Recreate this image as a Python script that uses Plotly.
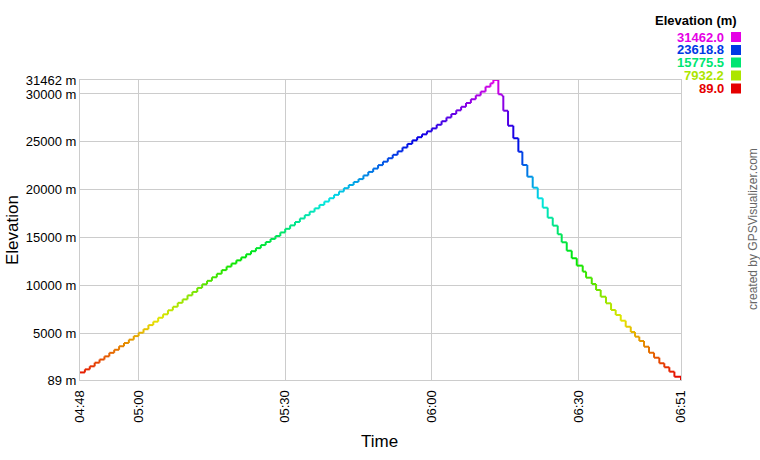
import colorsys
import plotly.graph_objects as go

DAY = "2000-01-01 "

# ---- data ----
ascent_times = [
    "04:48:00", "04:49:00", "04:50:00", "04:51:00", "04:52:00", "04:53:00", "04:54:00", "04:55:00",
    "04:56:00", "04:57:00", "04:58:00", "04:59:00", "05:00:00", "05:01:00", "05:02:00", "05:03:00",
    "05:04:00", "05:05:00", "05:06:00", "05:07:00", "05:08:00", "05:09:00", "05:10:00", "05:11:00",
    "05:12:00", "05:13:00", "05:14:00", "05:15:00", "05:16:00", "05:17:00", "05:18:00", "05:19:00",
    "05:20:00", "05:21:00", "05:22:00", "05:23:00", "05:24:00", "05:25:00", "05:26:00", "05:27:00",
    "05:28:00", "05:29:00", "05:30:00", "05:31:00", "05:32:00", "05:33:00", "05:34:00", "05:35:00",
    "05:36:00", "05:37:00", "05:38:00", "05:39:00", "05:40:00", "05:41:00", "05:42:00", "05:43:00",
    "05:44:00", "05:45:00", "05:46:00", "05:47:00", "05:48:00", "05:49:00", "05:50:00", "05:51:00",
    "05:52:00", "05:53:00", "05:54:00", "05:55:00", "05:56:00", "05:57:00", "05:58:00", "05:59:00",
    "06:00:00", "06:01:00", "06:02:00", "06:03:00", "06:04:00", "06:05:00", "06:06:00", "06:07:00",
    "06:08:00", "06:09:00", "06:10:00", "06:11:00", "06:12:00",
]
ascent_elev = [
    880, 1200, 1520, 1900, 2230, 2560, 2930, 3250, 3620, 3960, 4310, 4680, 5030,
    5400, 5830, 6190, 6600, 6960, 7380, 7750, 8160, 8520, 8940, 9300, 9720, 10100,
    10460, 10830, 11200, 11580, 11950,
    12270, 12600, 12910, 13240, 13560, 13880, 14200, 14520, 14840, 15150,
    15520, 15900, 16260, 16610, 16980, 17330, 17690, 18040, 18400, 18750, 19100, 19450, 19800, 20150,
    20480, 20800, 21100, 21480, 21850, 22200, 22560, 22920, 23280, 23640, 24000, 24400, 24780, 25150,
    25480, 25780, 26090, 26400, 26780, 27150, 27540, 27910, 28290, 28660, 29060, 29450, 29850, 30250,
    30762, 31117,
]
peak_time = ["06:12:36"]
peak_elev = [31462]
descent_times = [
    "06:13:37", "06:14:19", "06:14:38", "06:15:36", "06:16:41", "06:17:43", "06:18:32", "06:19:33",
    "06:20:39", "06:21:41", "06:22:42", "06:23:43", "06:24:45", "06:25:46", "06:26:35", "06:27:37",
    "06:28:38", "06:29:40", "06:30:53", "06:31:34", "06:32:44", "06:33:37", "06:34:34", "06:35:39",
    "06:36:41", "06:37:38", "06:38:40", "06:39:41", "06:40:43", "06:41:35", "06:42:28", "06:43:26",
    "06:44:27", "06:45:29", "06:46:34", "06:47:35", "06:48:37", "06:49:39", "06:51:00",
]
descent_elev = [
    29970, 29820, 28250, 26680, 25370, 23960, 22570, 21350, 20200, 19090, 18110, 17060, 16230,
    15330, 14490, 13610, 12820, 12050, 11420, 10790, 10130, 9500, 8800, 8110, 7410, 6890, 6290,
    5660, 5110, 4620, 4170, 3570, 2940, 2420, 1840, 1420, 960, 430, 89,
]

y_ticks = [89, 5000, 10000, 15000, 20000, 25000, 30000, 31462]
x_tick_labels = ["04:48", "05:00", "05:30", "06:00", "06:30", "06:51"]
legend_values = ["31462.0", "23618.8", "15775.5", "7932.2", "89.0"]

ELEV_MIN, ELEV_MAX = 89, 31462

times = [DAY + t for t in ascent_times + peak_time + descent_times]
elev = ascent_elev + peak_elev + descent_elev


def color_for(v):
    f = (v - ELEV_MIN) / (ELEV_MAX - ELEV_MIN)
    f = max(0.0, min(1.0, f))
    r, g, b = colorsys.hsv_to_rgb(f * 300 / 360, 1.0, 0.9)
    return "rgb({},{},{})".format(int(r * 255), int(g * 255), int(b * 255))


fig = go.Figure()
for i in range(len(times) - 1):
    # horizontal part
    fig.add_trace(go.Scatter(
        x=[times[i], times[i + 1]], y=[elev[i], elev[i]], mode="lines",
        line=dict(color=color_for(elev[i]), width=2),
        hoverinfo="skip", showlegend=False))
    # vertical part
    fig.add_trace(go.Scatter(
        x=[times[i + 1], times[i + 1]], y=[elev[i], elev[i + 1]], mode="lines",
        line=dict(color=color_for((elev[i] + elev[i + 1]) / 2), width=2),
        hoverinfo="skip", showlegend=False))

FONT = "Arial, Liberation Sans, sans-serif"
W, H = 760, 460
L, R, T, B = 80, 681, 80, 380   # plot area in page pixels


def px(x):
    return (x - L) / (R - L)


def py(y):
    return (B - y) / (B - T)


annotations = [
    dict(text="Elevation", x=px(12), y=py(230), xref="paper", yref="paper", showarrow=False,
         xanchor="center", yanchor="middle",
         textangle=-90, font=dict(family=FONT, size=17, color="#000")),
    dict(text="Time", x=px(379), y=py(441), xref="paper", yref="paper", showarrow=False,
         xanchor="center", yanchor="middle",
         font=dict(family=FONT, size=17, color="#000")),
    dict(text="<b>Elevation (m)</b>", x=px(739), y=py(21), xref="paper", yref="paper",
         showarrow=False, xanchor="right", yanchor="middle",
         font=dict(family=FONT, size=13, color="#000")),
    dict(text="created by GPSVisualizer.com", x=px(753), y=py(229), xref="paper", yref="paper",
         showarrow=False, xanchor="center", yanchor="middle",
         textangle=-90, font=dict(family=FONT, size=12, color="#666")),
]
shapes = []
leg_y = [37, 50, 62.5, 75.5, 88.5]
for val, yc in zip(legend_values, leg_y):
    c = color_for(float(val))
    annotations.append(dict(text="<b>" + val + "</b>", x=px(726), y=py(yc), xref="paper", yref="paper",
                            showarrow=False, xanchor="right", yanchor="middle",
                            font=dict(family=FONT, size=13, color=c)))
    shapes.append(dict(type="rect", xref="paper", yref="paper",
                       x0=px(731), x1=px(741), y0=py(yc + 5), y1=py(yc - 5),
                       fillcolor=c, line=dict(width=0)))

fig.update_layout(
    width=W, height=H,
    margin=dict(l=L, r=W - R, t=T, b=H - B),
    paper_bgcolor="white", plot_bgcolor="white",
    annotations=annotations, shapes=shapes,
    xaxis=dict(
        type="date", range=[DAY + "04:48:00", DAY + "06:51:00"],
        tickvals=[DAY + t for t in x_tick_labels], ticktext=x_tick_labels,
        tickangle=-90, showgrid=True, gridcolor="#cccccc", gridwidth=1,
        showline=True, linecolor="#cccccc", mirror=True, zeroline=False,
        ticks="", automargin=False, ticklabelstandoff=4,
        tickfont=dict(family=FONT, size=13, color="#000"),
    ),
    yaxis=dict(
        range=[ELEV_MIN, ELEV_MAX], tickvals=y_ticks,
        ticktext=["{} m".format(v) for v in y_ticks],
        showgrid=True, gridcolor="#cccccc", gridwidth=1,
        showline=True, linecolor="#cccccc", mirror=True, zeroline=False,
        ticks="", automargin=False, tickfont=dict(family=FONT, size=13, color="#000"),
    ),
)

fig.write_html(
    "out.html",
    config={"displayModeBar": False},
    post_script="document.body.style.margin='0';document.body.style.overflow='hidden';",
)
